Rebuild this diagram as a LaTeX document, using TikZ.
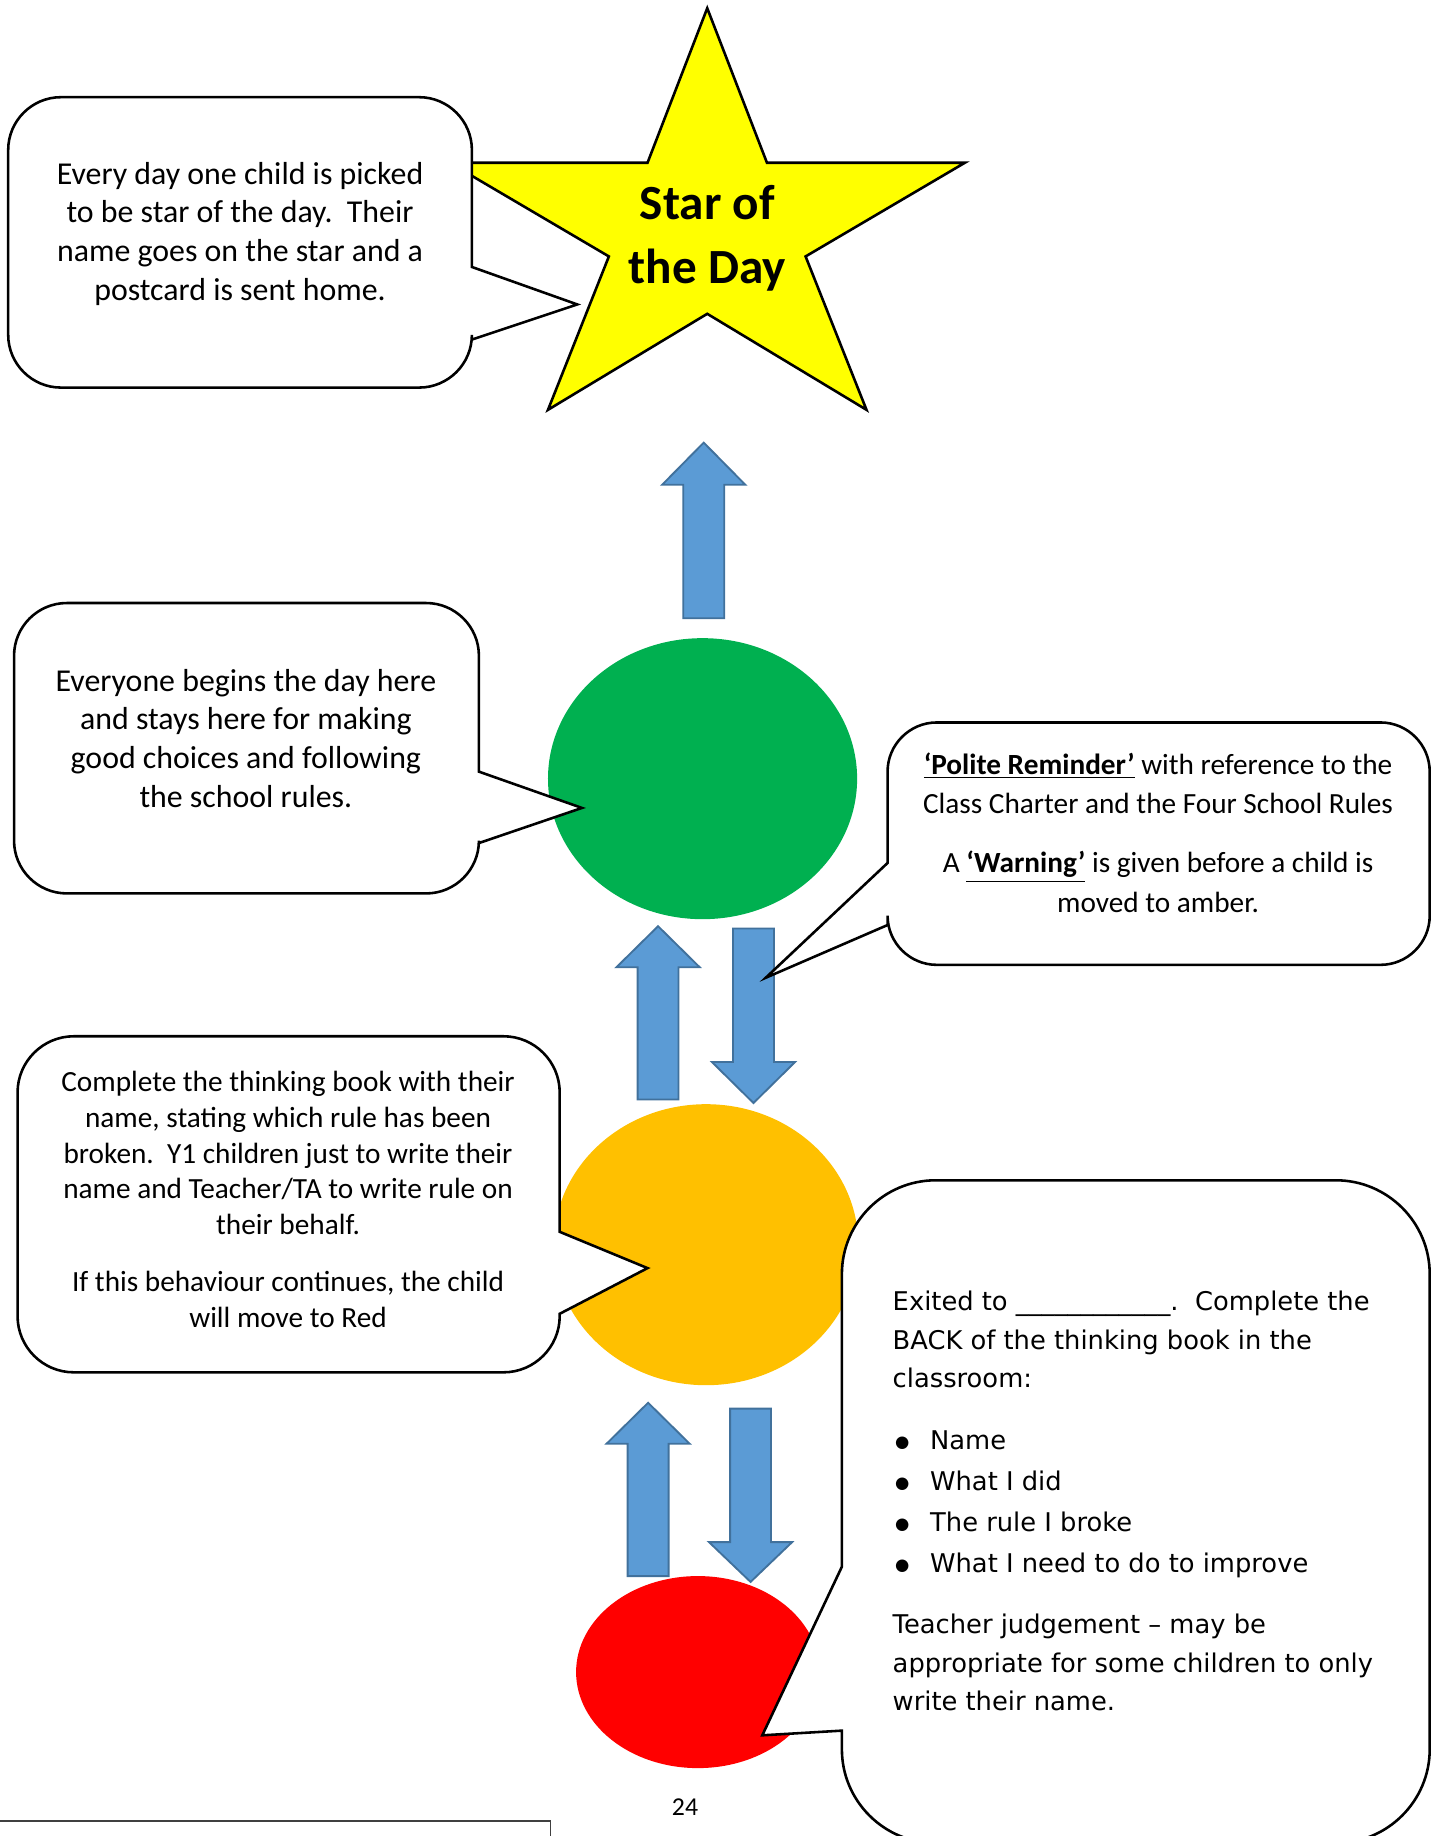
\documentclass[tikz,border=0pt]{standalone}
\usepackage{fontspec}
\setmainfont{Carlito}
\newfontfamily\verd{DejaVu Sans}
\usetikzlibrary{shapes.geometric}
\definecolor{arrowblue}{RGB}{91,155,213}
\definecolor{arrowedge}{RGB}{65,113,156}
\definecolor{lampgreen}{RGB}{0,176,80}
\definecolor{lampamber}{RGB}{255,192,0}
\definecolor{lampred}{RGB}{255,0,0}
\definecolor{staryellow}{RGB}{255,255,0}
\newcommand{\setfs}[2]{\fontsize{#1pt}{#2pt}\selectfont}
\newcommand{\bul}{\makebox[16pt][l]{\hspace*{1pt}\raisebox{0.8pt}{\fontsize{7pt}{16.5pt}\selectfont ●}}}
\tikzstyle{bubble}=[draw=black, fill=white, line width=1.1pt, line join=miter]
\tikzstyle{blk}=[draw=arrowedge, fill=arrowblue, line width=0.8pt]
\tikzstyle{lamp}=[ellipse, inner sep=0pt, draw=none]
\tikzstyle{note}=[align=center, inner sep=0pt]
% rounded box, pointer on the right edge: x1,y1,x2,y2,r,ya,tip,yb
\newcommand{\bubbleright}[8]{%
  \draw[bubble] ({#1+#5},#2) -- ({#3-#5},#2)
    .. controls ({#3-0.45*#5},#2) and (#3,{#2+0.45*#5}) .. (#3,{#2+#5})
    -- (#3,#6) -- #7 -- (#3,#8) -- (#3,{#4-#5})
    .. controls (#3,{#4-0.45*#5}) and ({#3-0.45*#5},#4) .. ({#3-#5},#4)
    -- ({#1+#5},#4)
    .. controls ({#1+0.45*#5},#4) and (#1,{#4-0.45*#5}) .. (#1,{#4-#5})
    -- (#1,{#2+#5})
    .. controls (#1,{#2+0.45*#5}) and ({#1+0.45*#5},#2) .. ({#1+#5},#2) -- cycle;}
% same, pointer on the left edge
\newcommand{\bubbleleft}[8]{%
  \draw[bubble] ({#1+#5},#2) -- ({#3-#5},#2)
    .. controls ({#3-0.45*#5},#2) and (#3,{#2+0.45*#5}) .. (#3,{#2+#5})
    -- (#3,{#4-#5})
    .. controls (#3,{#4-0.45*#5}) and ({#3-0.45*#5},#4) .. ({#3-#5},#4)
    -- ({#1+#5},#4)
    .. controls ({#1+0.45*#5},#4) and (#1,{#4-0.45*#5}) .. (#1,{#4-#5})
    -- (#1,#8) -- #7 -- (#1,#6) -- (#1,{#2+#5})
    .. controls (#1,{#2+0.45*#5}) and ({#1+0.45*#5},#2) .. ({#1+#5},#2) -- cycle;}

\begin{document}
\begin{tikzpicture}[x=0.5pt, y=-0.5pt]
            \useasboundingbox (0,0) rectangle (1227,1568);
            \clip (0,0) rectangle (1227,1568);
            %star at the top, callout laid over its left arm
            \draw[fill=staryellow, line width=1.1pt] (604,7) -- (655,139) -- (824,139) -- (688,219) -- (740,350)
                -- (604,268) -- (468,350) -- (520,219) -- (384,139) -- (553,139) -- cycle;
            \node[note, font=\bfseries\setfs{21}{27.5}] (sotd) at (604,203.5) {Star of\\the Day};
            \bubbleright{7}{83}{403}{331}{45}{228}{(493,260)}{290}

            %block arrows: centre x / tail / head base / tip
            \foreach \cx/\yt/\yh/\yp in {601/528/414/378, 562/939/826/791, 643.5/793/907/942,
                                        553.5/1346/1233/1198, 641/1203/1317/1351}{
                \draw[blk] ({\cx-17.5},\yt) -- ({\cx-17.5},\yh) -- ({\cx-35.5},\yh) -- (\cx,\yp)
                    -- ({\cx+35.5},\yh) -- ({\cx+17.5},\yh) -- ({\cx+17.5},\yt) -- cycle;
            }

            \node[lamp, fill=lampgreen, minimum width=132pt, minimum height=120pt] (go) at (600,665) {};
            \node[lamp, fill=lampamber, minimum width=130pt, minimum height=120pt] (wait) at (603,1063) {};
            \node[lamp, fill=lampred, minimum width=104pt, minimum height=82pt] (stop) at (596,1428) {};

            \bubbleright{12}{515}{409}{763}{45}{659}{(497,690)}{720}
            \bubbleleft{758}{617}{1221}{824}{42}{737}{(654,835)}{790}
            \bubbleright{15}{885}{478}{1172}{48}{1052}{(553,1083)}{1122}
            \bubbleleft{719}{1008}{1221}{1574}{80}{1338}{(651,1482)}{1478}

            \node[note, font=\setfs{13.6}{16.5}] (txtstar) at (205,199.5)
                {Every day one child is picked\\to be star of the day.\ \ Their\\name goes on the star and a\\postcard is sent home.};
            \node[note, font=\setfs{13.6}{16.5}] (txtgreen) at (210,630.5)
                {Everyone begins the day here\\and stays here for making\\good choices and following\\the school rules.};
            \node[note, font=\setfs{12.5}{16.8}] (txtpolite) at (989,711)
                {\underline{\textbf{‘Polite Reminder’}} with reference to the\\Class Charter and the Four School Rules\\[8.5pt]
                 A \underline{\textbf{‘Warning’}} is given before a child is\\moved to amber.};
            \node[note, font=\setfs{12.5}{15.25}] (txtamber) at (246,1024.5)
                {Complete the thinking book with their\\name, stating which rule has been\\broken.\ \ Y1 children just to write their\\name and Teacher/TA to write rule on\\their behalf.\\[9.25pt]
                 If this behaviour continues, the child\\will move to Red};
            \node[align=left, inner sep=0pt, anchor=west, font=\verd\setfs{11}{16.5}] (txtred) at (762,1282)
                {Exited to \_\_\_\_\_\_\_\_\_\_\_\_.\ \ Complete the\\BACK of the thinking book in the\\classroom:\\[10pt]
                 \bul Name\\[1pt]\bul What I did\\[1pt]\bul The rule I broke\\[1pt]\bul What I need to do to improve\\[9.5pt]
                 Teacher judgement – may be\\appropriate for some children to only\\write their name.};

            \node[font=\setfs{11}{13}, inner sep=0pt] (pagenum) at (585,1543) {24};
            \draw[black!75, line width=0.6pt] (0,1555) -- (470,1555) -- (470,1580);
\end{tikzpicture}
\end{document}
